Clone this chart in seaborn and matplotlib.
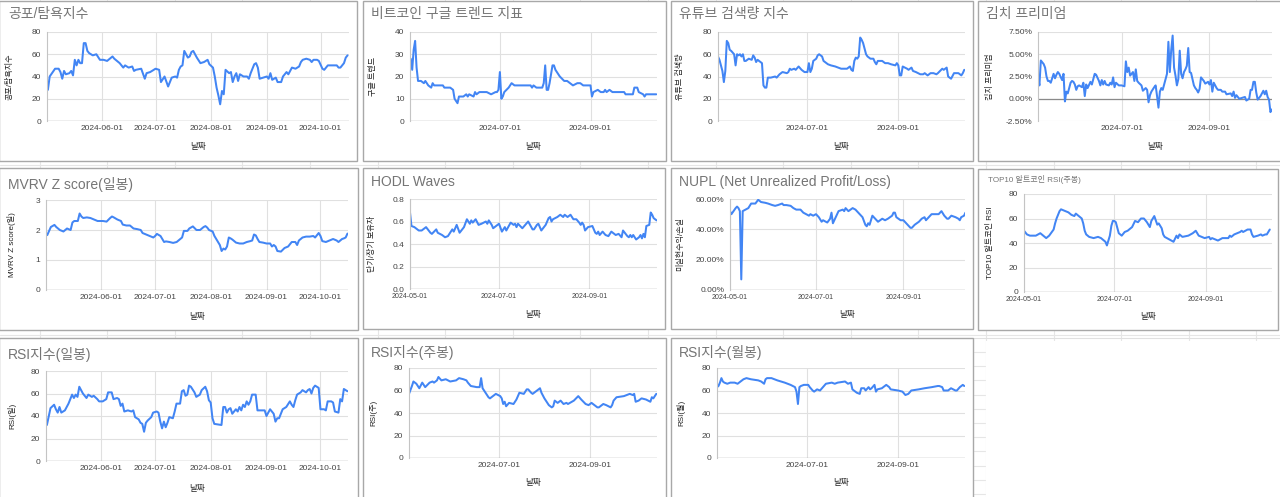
import pandas as pd
import matplotlib
matplotlib.use("Agg")
import matplotlib.pyplot as plt
import matplotlib.dates as mdates
import matplotlib.ticker as mticker
from matplotlib.patches import Rectangle
import seaborn as sns

sns.set_style("white")
plt.rcParams['font.family'] = ['Liberation Sans', 'Noto Sans CJK KR', 'DejaVu Sans']

START = pd.Timestamp("2024-05-01")

# (days since 2024-05-01, value)
fear_greed = [(1, 28), (2, 40), (5, 47), (7, 47), (8, 44), (9, 38), (10, 45), (11, 42), (13, 43), (14, 45),
              (15, 41), (16, 55), (17, 50), (18, 55), (19, 52), (20, 52), (21, 70), (22, 70), (23, 63), (24, 61),
              (26, 59), (28, 60), (30, 55), (32, 55), (34, 54), (37, 58), (38, 56), (41, 52), (43, 48), (44, 50),
              (46, 48), (48, 49), (49, 45), (50, 46), (53, 47), (55, 38), (56, 43), (58, 44), (61, 47), (63, 46),
              (64, 35), (66, 40), (68, 31), (70, 39), (72, 40), (73, 39), (74, 46), (75, 49), (76, 50), (77, 63),
              (78, 60), (79, 57), (80, 58), (81, 62), (82, 63), (84, 57), (86, 52), (88, 53), (90, 55), (91, 51),
              (93, 48), (94, 40), (95, 30), (96, 23), (97, 15), (98, 27), (99, 24), (100, 46), (102, 43), (103, 44),
              (104, 35), (105, 40), (106, 43), (107, 36), (108, 42), (110, 40), (112, 40), (113, 38), (114, 43), (116, 51),
              (117, 52), (118, 48), (119, 38), (121, 39), (123, 40), (124, 38), (125, 43), (126, 37), (128, 39), (129, 35),
              (131, 35), (132, 40), (134, 44), (135, 42), (137, 48), (139, 47), (141, 49), (142, 53), (143, 55), (145, 56),
              (147, 55), (148, 53), (149, 55), (151, 55), (152, 54), (154, 47), (155, 46), (157, 50), (159, 50), (162, 50),
              (163, 48), (164, 48), (165, 50), (166, 52), (167, 57), (168, 59)]

google_trend = [(0, 28), (1, 23), (2, 32), (3, 36), (4, 24), (5, 18), (7, 18), (9, 17), (10, 18), (12, 16),
                (14, 15), (15, 17), (16, 16), (20, 16), (22, 16), (23, 15), (27, 15), (29, 14), (30, 10), (31, 9),
                (32, 8), (33, 11), (36, 11), (38, 12), (39, 11), (40, 12), (43, 11), (44, 13), (45, 12), (47, 13),
                (52, 13), (55, 12), (58, 13), (59, 13), (60, 14), (61, 22), (62, 10), (63, 11), (64, 13), (67, 15),
                (69, 17), (71, 16), (77, 16), (79, 16), (82, 16), (83, 15), (84, 16), (86, 15), (90, 15), (91, 17),
                (92, 25), (93, 14), (94, 14), (95, 17), (97, 25), (98, 25), (99, 23), (100, 22), (102, 20), (105, 18),
                (107, 18), (109, 17), (111, 16), (114, 17), (116, 17), (118, 16), (122, 16), (123, 16), (124, 11), (125, 13),
                (128, 14), (130, 13), (132, 13), (133, 14), (134, 13), (136, 14), (138, 13), (146, 13), (147, 12), (152, 12),
                (153, 15), (155, 15), (156, 13), (159, 12), (160, 11), (161, 12), (164, 12), (168, 12)]

youtube = [(0, 58), (1, 55), (3, 45), (4, 35), (5, 45), (6, 72), (7, 70), (8, 64), (9, 63), (11, 60),
           (12, 50), (13, 60), (14, 59), (15, 60), (16, 58), (17, 60), (18, 54), (19, 54), (21, 56), (23, 55),
           (24, 59), (25, 57), (26, 53), (27, 55), (28, 54), (30, 52), (31, 32), (32, 30), (33, 30), (34, 39),
           (36, 39), (39, 40), (40, 39), (42, 42), (44, 44), (47, 43), (48, 44), (49, 47), (50, 46), (52, 47),
           (53, 46), (55, 49), (57, 46), (59, 44), (61, 44), (62, 52), (63, 44), (64, 47), (65, 54), (67, 56),
           (68, 59), (69, 60), (71, 58), (72, 54), (74, 52), (75, 51), (77, 50), (80, 49), (82, 48), (84, 47),
           (88, 47), (89, 48), (90, 49), (91, 46), (92, 45), (93, 54), (94, 57), (95, 56), (96, 58), (97, 75),
           (98, 73), (99, 70), (100, 65), (101, 60), (102, 58), (104, 56), (106, 56), (107, 53), (108, 51), (109, 54),
           (112, 54), (114, 52), (116, 52), (118, 51), (121, 50), (122, 52), (123, 50), (124, 41), (125, 41), (126, 49),
           (129, 47), (130, 46), (132, 48), (133, 45), (135, 44), (138, 42), (140, 42), (141, 43), (143, 41), (145, 43),
           (147, 43), (149, 42), (150, 43), (153, 47), (154, 46), (156, 48), (157, 40), (159, 38), (161, 43), (164, 43),
           (166, 41), (167, 43), (168, 46)]

kimchi = [(2, 2.5), (3, 1.5), (4, 4.3), (6, 3.9), (7, 3.5), (8, 2.5), (9, 2.0), (10, 2.0), (11, 1.8), (13, 2.8),
          (14, 2.3), (15, 2.7), (16, 3.0), (17, 2.8), (19, 2.1), (20, 2.8), (21, -0.3), (22, 0.8), (23, 0.6), (24, 1.2),
          (25, 1.8), (26, 2.0), (27, 1.9), (28, 1.6), (29, 1.0), (30, 1.4), (31, 1.5), (33, 1.3), (34, 1.8), (35, 0.3),
          (36, 1.6), (37, 1.2), (39, 1.9), (40, 1.6), (41, 2.2), (42, 2.8), (43, 2.7), (45, 2.0), (46, 1.5), (47, 2.1),
          (48, 1.6), (49, 2.0), (50, 1.6), (52, 1.5), (53, 1.8), (54, 1.6), (55, 2.4), (56, 1.3), (57, 1.8), (59, 1.5),
          (61, 1.5), (63, 1.4), (64, 4.2), (65, 3.0), (66, 3.5), (67, 2.6), (69, 3.0), (70, 2.0), (71, 3.3), (72, 2.0),
          (73, 1.8), (75, 1.5), (76, 0.9), (78, 1.2), (79, 1.0), (80, -0.4), (81, 0.4), (82, 0.8), (84, 1.3), (85, 1.5),
          (86, 0.3), (87, -1.0), (88, 0.8), (89, 1.2), (90, 1.0), (92, 2.2), (93, 2.8), (94, 6.4), (95, 3.0), (96, 5.5),
          (97, 7.1), (98, 3.5), (99, 2.6), (100, 1.5), (101, 2.2), (102, 5.4), (103, 2.8), (104, 2.3), (105, 3.0), (106, 3.3),
          (107, 3.7), (108, 5.7), (109, 3.0), (110, 2.9), (112, 1.5), (113, 1.2), (114, 1.0), (115, 0.7), (116, 1.1), (117, 2.4),
          (119, 2.0), (120, 1.7), (122, 1.9), (123, 1.6), (124, 2.1), (125, 0.8), (126, 1.8), (127, 1.5), (128, 1.2), (129, 1.0),
          (131, 1.0), (132, 0.8), (134, 0.8), (135, 0.5), (138, 0.6), (139, 0.3), (140, 0.8), (141, 0.1), (142, 0.4), (144, 0.0),
          (146, 0.1), (148, 0.2), (149, -0.2), (151, 0.0), (152, 1.0), (153, 1.0), (154, 1.9), (155, 1.9), (156, 0.7), (157, -0.1),
          (158, 0.1), (159, 0.3), (161, 0.9), (162, 0.5), (163, 0.9), (164, 0.2), (165, -0.1), (166, -1.5), (167, -1.2)]

mvrv = [(1, 1.83), (3, 2.1), (5, 2.17), (6, 2.1), (8, 2.0), (10, 1.95), (12, 2.05), (14, 2.0), (15, 2.25), (16, 2.3),
        (18, 2.3), (19, 2.55), (20, 2.45), (21, 2.4), (23, 2.42), (25, 2.4), (27, 2.35), (29, 2.3), (30, 2.3), (32, 2.3),
        (34, 2.28), (36, 2.4), (37, 2.45), (38, 2.42), (40, 2.35), (42, 2.3), (43, 2.18), (45, 2.15), (47, 2.15), (49, 2.05),
        (51, 2.03), (53, 2.0), (54, 1.9), (56, 1.85), (58, 1.8), (60, 1.75), (61, 1.8), (62, 1.87), (64, 1.8), (66, 1.6),
        (67, 1.62), (69, 1.6), (71, 1.57), (73, 1.6), (75, 1.7), (76, 1.75), (77, 1.97), (79, 1.97), (80, 2.05), (82, 2.12),
        (84, 2.0), (86, 2.0), (88, 2.1), (89, 2.13), (90, 2.08), (91, 2.0), (93, 1.95), (94, 1.8), (95, 1.7), (96, 1.6),
        (97, 1.5), (98, 1.3), (99, 1.38), (100, 1.35), (101, 1.45), (102, 1.75), (103, 1.72), (104, 1.68), (106, 1.58), (108, 1.55),
        (110, 1.55), (112, 1.6), (114, 1.63), (115, 1.65), (116, 1.85), (117, 1.82), (118, 1.7), (119, 1.6), (121, 1.58), (123, 1.55),
        (125, 1.55), (126, 1.45), (127, 1.5), (128, 1.45), (129, 1.3), (131, 1.28), (133, 1.4), (135, 1.45), (137, 1.6), (139, 1.6),
        (140, 1.5), (141, 1.65), (143, 1.75), (145, 1.78), (147, 1.78), (149, 1.8), (150, 1.75), (152, 1.9), (153, 1.8), (154, 1.63),
        (156, 1.6), (158, 1.65), (160, 1.7), (162, 1.65), (163, 1.6), (165, 1.7), (166, 1.72), (167, 1.75), (168, 1.88)]

hodl = [(0, 0.68), (1, 0.56), (3, 0.55), (6, 0.52), (8, 0.52), (10, 0.54), (11, 0.55), (14, 0.50), (15, 0.49), (18, 0.53),
        (19, 0.50), (22, 0.48), (24, 0.46), (26, 0.47), (29, 0.53), (30, 0.51), (32, 0.57), (34, 0.50), (37, 0.55), (39, 0.62),
        (41, 0.58), (42, 0.61), (43, 0.59), (45, 0.62), (47, 0.57), (49, 0.58), (52, 0.60), (53, 0.58), (54, 0.61), (56, 0.57),
        (57, 0.54), (61, 0.58), (63, 0.51), (65, 0.55), (66, 0.52), (69, 0.59), (71, 0.57), (72, 0.58), (73, 0.55), (74, 0.58),
        (77, 0.54), (79, 0.57), (81, 0.60), (84, 0.53), (85, 0.53), (87, 0.57), (88, 0.58), (90, 0.52), (93, 0.57), (95, 0.63),
        (96, 0.64), (97, 0.60), (98, 0.62), (101, 0.64), (103, 0.66), (105, 0.64), (106, 0.66), (108, 0.64), (110, 0.66), (112, 0.62),
        (114, 0.62), (116, 0.59), (117, 0.57), (118, 0.59), (119, 0.57), (120, 0.52), (122, 0.55), (125, 0.56), (126, 0.53), (127, 0.50),
        (128, 0.49), (129, 0.51), (130, 0.48), (132, 0.51), (134, 0.48), (136, 0.47), (138, 0.51), (141, 0.48), (143, 0.49), (145, 0.46),
        (146, 0.52), (149, 0.47), (150, 0.46), (151, 0.48), (152, 0.46), (153, 0.48), (155, 0.44), (157, 0.46), (158, 0.48), (159, 0.45),
        (160, 0.49), (161, 0.46), (162, 0.56), (164, 0.57), (165, 0.68), (166, 0.66), (167, 0.63), (168, 0.62), (169, 0.61)]

nupl = [(0, 52), (1, 50), (4, 54), (5, 55), (6, 54), (7, 52), (8, 7), (9, 52), (11, 53), (13, 54),
        (15, 57), (18, 57), (20, 59.5), (22, 58), (25, 57.5), (27, 57), (30, 56), (32, 55.5), (34, 56), (37, 57),
        (38, 56), (40, 56), (43, 55.5), (45, 54), (47, 53), (50, 53), (52, 51), (54, 50), (56, 49), (57, 50),
        (59, 49), (61, 50), (63, 48), (65, 45), (66, 46), (69, 44.5), (71, 47), (72, 51), (73, 44), (75, 48),
        (77, 52), (80, 53), (81, 52), (82, 54), (84, 52), (87, 54), (89, 53), (91, 51), (94, 48), (96, 43),
        (97, 42), (98, 44), (99, 43), (101, 49), (103, 47), (105, 45), (108, 47), (110, 46), (112, 47), (115, 49),
        (116, 51), (117, 51), (118, 48), (121, 46), (123, 46), (124, 45), (126, 43), (128, 41), (129, 41), (131, 43),
        (134, 45), (136, 47), (138, 48), (139, 46), (141, 48), (143, 50), (145, 50), (148, 50), (150, 52), (152, 49),
        (154, 47), (155, 47), (157, 49), (160, 48), (162, 47), (163, 46), (164, 48), (166, 49), (167, 51)]

alt_rsi = [(0, 50), (2, 47), (4, 46), (8, 46), (11, 48), (13, 46), (15, 44), (17, 46), (20, 51), (21, 56),
           (22, 60), (23, 63), (24, 66), (25, 67.5), (28, 66), (30, 65), (32, 63), (34, 62), (35, 64), (38, 61),
           (39, 60), (40, 56), (41, 50), (42, 47), (44, 45), (47, 44), (50, 45), (52, 44), (55, 41), (56, 38),
           (57, 42), (58, 46), (59, 54), (60, 58), (61, 58), (62, 57), (64, 48), (66, 46), (68, 49), (70, 50),
           (73, 53), (75, 58), (77, 57), (79, 60), (81, 60), (83, 57), (85, 53), (86, 58), (88, 62), (90, 55),
           (91, 56), (93, 52), (94, 47), (95, 45), (98, 43), (101, 41), (103, 46), (104, 44), (105, 47), (107, 45),
           (111, 46), (114, 48), (116, 50), (118, 46), (120, 45), (122, 44), (125, 45), (126, 43), (127, 44), (131, 42),
           (134, 44), (138, 44), (139, 46), (140, 45), (142, 47), (144, 48), (146, 49), (147, 50), (148, 49), (151, 51),
           (153, 51), (154, 47), (155, 45), (158, 46), (160, 47), (161, 46), (163, 47), (164, 47), (165, 49), (166, 51)]

rsi_day = [(1, 32), (3, 47), (5, 50), (6, 46), (7, 43), (8, 48), (9, 43), (11, 45), (13, 51), (15, 59),
           (16, 56), (17, 59), (18, 57), (19, 66), (21, 60), (23, 56), (24, 59), (26, 57), (27, 58), (29, 55),
           (30, 53), (32, 53), (34, 55), (35, 61), (37, 61), (38, 55), (40, 56), (41, 55), (42, 49), (43, 51),
           (44, 44), (46, 45), (48, 44), (49, 45), (50, 39), (52, 37), (53, 34), (54, 33), (55, 26), (56, 34),
           (57, 36), (59, 39), (60, 43), (62, 44), (63, 43), (64, 35), (65, 29), (66, 35), (67, 30), (68, 34),
           (69, 39), (71, 38), (72, 44), (73, 51), (75, 51), (76, 62), (77, 63), (78, 58), (79, 59), (80, 67),
           (81, 66), (83, 61), (84, 57), (86, 59), (87, 63), (89, 66), (90, 62), (91, 54), (92, 52), (93, 38),
           (94, 33), (98, 32), (99, 48), (100, 48), (101, 43), (102, 46), (103, 47), (104, 42), (106, 46), (107, 44),
           (108, 48), (109, 45), (110, 50), (111, 48), (112, 53), (113, 50), (114, 53), (115, 59), (117, 59), (118, 45),
           (122, 45), (123, 40), (125, 46), (127, 42), (128, 35), (129, 38), (130, 38), (132, 46), (134, 48), (136, 53),
           (137, 50), (138, 48), (139, 54), (140, 59), (142, 61), (143, 63), (145, 61), (146, 63), (147, 64), (148, 60),
           (149, 65), (150, 67), (152, 65), (153, 46), (155, 46), (156, 45), (157, 53), (159, 53), (160, 52), (161, 44),
           (163, 43), (164, 55), (165, 53), (166, 64), (168, 62)]

rsi_week = [(0, 57), (2, 64), (3, 68), (5, 66), (7, 62), (9, 67), (11, 63), (14, 67), (16, 68), (17, 67),
            (19, 69), (20, 72), (22, 69), (25, 70), (28, 68), (32, 69), (34, 71), (37, 70), (39, 69), (40, 67),
            (42, 64), (46, 63), (48, 63), (49, 71), (50, 62), (52, 58), (54, 54), (55, 53), (57, 55), (59, 57),
            (62, 55), (63, 53), (64, 48), (65, 50), (66, 46), (68, 49), (71, 48), (73, 52), (75, 58), (78, 57),
            (80, 61), (81, 61), (83, 58), (84, 57), (87, 60), (89, 62), (90, 58), (92, 53), (95, 47), (97, 45),
            (98, 46), (99, 51), (101, 49), (103, 51), (105, 48), (107, 49), (108, 48), (112, 51), (115, 55), (117, 52),
            (120, 48), (122, 47), (124, 49), (128, 45), (129, 45), (132, 48), (134, 47), (137, 45), (138, 47), (139, 51),
            (141, 54), (146, 55), (150, 57), (152, 56), (153, 57), (154, 50), (156, 51), (158, 53), (161, 52), (164, 50),
            (165, 54), (166, 53), (168, 57)]

rsi_month = [(0, 63), (1, 64), (2, 67), (3, 71), (4, 68), (5, 67), (7, 66), (9, 67), (12, 67), (14, 66),
             (16, 68), (18, 70), (20, 71), (23, 70), (28, 69), (30, 68), (32, 66), (33, 70), (34, 71), (37, 71),
             (41, 69), (46, 67), (50, 65), (53, 63), (54, 59), (55, 48), (56, 63), (57, 64), (59, 65), (62, 65),
             (63, 63), (65, 60), (66, 59), (68, 61), (70, 60), (72, 63), (74, 66), (78, 67), (80, 66), (82, 67),
             (87, 68), (89, 66), (91, 67), (92, 61), (95, 58), (97, 57), (98, 62), (100, 62), (101, 60), (103, 63),
             (104, 61), (105, 62), (107, 65), (108, 59), (109, 61), (112, 62), (115, 65), (117, 63), (118, 61), (123, 60),
             (126, 59), (128, 56), (130, 57), (132, 60), (137, 61), (141, 62), (146, 63), (150, 64), (151, 64), (153, 63),
             (154, 60), (157, 60), (159, 62), (162, 60), (163, 60), (165, 63), (167, 65), (168, 64)]

MONTHLY = ['2024-06-01', '2024-07-01', '2024-08-01', '2024-09-01', '2024-10-01']
BIMONTH = ['2024-07-01', '2024-09-01']
BIMONTH0 = ['2024-05-01', '2024-07-01', '2024-09-01']

W, H = 1280, 497
BLUE = '#4285f4'
TITLE_C = '#757575'

fig = plt.figure(figsize=(W / 100, H / 100), dpi=100)
bg = fig.add_axes([0, 0, 1, 1])
bg.set_xlim(0, W)
bg.set_ylim(H, 0)
bg.axis('off')

# spreadsheet grid behind the chart cards
for k in range(19):
    x = 39.5 + 67.6 * k
    bg.plot([x, x], [0, H], color='#e6e6e6', lw=0.8, zorder=0)
for y in [164.5, 334.5]:
    bg.plot([0, W], [y, y], color='#e6e6e6', lw=0.8, zorder=0)
bg.add_patch(Rectangle((986, 341), 300, 160, facecolor='white', edgecolor='none', zorder=1))
bg.plot([973, W], [338, 338], color='#e0e0e0', lw=0.8, zorder=2)
for k in range(11):
    y = 352 + 14.2 * k
    bg.plot([974, 985], [y, y], color='#e6e6e6', lw=0.8, zorder=2)

charts = [
    dict(card=(-1, 0.5, 357, 161), box=(47, 32, 349, 121), title='공포/탐욕지수', tpos=(8, 14),
         ylabel='공포/탐욕지수', ylx=10, xly=147, series=fear_greed, xlim=(0.5, 168.8),
         yt=[0, 20, 40, 60, 80], fmt='{:.0f}', xt=MONTHLY),
    dict(card=(363, 0.5, 666, 161), box=(410, 32, 657, 121), title='비트코인 구글 트렌드 지표', tpos=(371, 14),
         ylabel='구글 트렌드', ylx=373, xly=146, series=google_trend, xlim=(-0.5, 168.5),
         yt=[0, 10, 20, 30, 40], fmt='{:.0f}', xt=BIMONTH),
    dict(card=(671, 0.5, 973, 161), box=(718, 32, 965, 121), title='유튜브 검색량 지수', tpos=(679, 14),
         ylabel='유튜브 검색량', ylx=680, xly=146, series=youtube, xlim=(0, 168.5),
         yt=[0, 20, 40, 60, 80], fmt='{:.0f}', xt=BIMONTH),
    dict(card=(978, 0.5, 1282, 161), box=(1038, 32, 1272, 121), title='김치 프리미엄', tpos=(986, 14),
         ylabel='김치 프리미엄', ylx=990, xly=146, series=kimchi, xlim=(2, 167.1),
         yt=[-2.5, 0, 2.5, 5, 7.5], fmt='{:.2f}%', xt=BIMONTH),
    dict(card=(-1, 168, 358, 330), box=(46, 200, 348, 290), title='MVRV Z score(일봉)', tpos=(8, 184),
         ylabel='MVRV Z score(일)', ylx=12, xly=317, series=mvrv, xlim=(0.3, 168.3),
         yt=[0, 1, 2, 3], fmt='{:.0f}', xt=MONTHLY),
    dict(card=(363, 168, 665, 329), box=(410, 199, 657, 289), title='HODL Waves', tpos=(371, 182),
         ylabel='단기/장기 보유자', ylx=372, xly=315, series=hodl, xlim=(0, 169.3),
         yt=[0, 0.2, 0.4, 0.6, 0.8], fmt='{:.1f}', xt=BIMONTH0, small=True),
    dict(card=(671, 168, 973, 329), box=(730, 199, 965, 290), title='NUPL (Net Unrealized Profit/Loss)',
         tpos=(679, 182), ylabel='미실현수익/손실', ylx=680, xly=315, series=nupl, xlim=(0, 166.7),
         yt=[0, 20, 40, 60], fmt='{:.2f}%', xt=BIMONTH0, small=True),
    dict(card=(978, 169, 1278, 330), box=(1024, 194, 1272, 292), title='TOP10 알트코인 RSI(주봉)',
         tpos=(988, 180), tsize=5.8, ylabel='TOP10 알트코인 RSI', ylx=990, xly=317, series=alt_rsi,
         xlim=(0, 167.5), yt=[0, 20, 40, 60, 80], fmt='{:.0f}', xt=BIMONTH0, small=True),
    dict(card=(-1, 338, 358, 499), box=(46, 371, 348, 461), title='RSI지수(일봉)', tpos=(8, 354),
         ylabel='RSI(일)', ylx=12, xly=488, series=rsi_day, xlim=(0.5, 168.3),
         yt=[0, 20, 40, 60, 80], fmt='{:.0f}', xt=MONTHLY),
    dict(card=(363, 338, 666, 499), box=(409, 368, 657, 458), title='RSI지수(주봉)', tpos=(371, 352),
         ylabel='RSI(주)', ylx=373, xly=482, series=rsi_week, xlim=(0, 168.5),
         yt=[0, 20, 40, 60, 80], fmt='{:.0f}', xt=BIMONTH),
    dict(card=(671, 338, 973, 499), box=(717, 368, 965, 458), title='RSI지수(월봉)', tpos=(679, 352),
         ylabel='RSI(월)', ylx=681, xly=482, series=rsi_month, xlim=(0, 168.5),
         yt=[0, 20, 40, 60, 80], fmt='{:.0f}', xt=BIMONTH),
]

for c in charts:
    x0, y0, x1, y1 = c['card']
    bg.add_patch(Rectangle((x0, y0), x1 - x0, y1 - y0, facecolor='white',
                           edgecolor='#a8a8a8', lw=1.0, zorder=3))
    bg.text(c['tpos'][0], c['tpos'][1], c['title'], fontsize=c.get('tsize', 10),
            color=TITLE_C, ha='left', va='center', zorder=4)

    l, t, r, b = c['box']
    ax = fig.add_axes([l / W, 1 - b / H, (r - l) / W, (b - t) / H])
    ax.set_facecolor('none')
    days, vals = zip(*c['series'])
    dates = START + pd.to_timedelta(list(days), unit='D')
    sns.lineplot(x=dates, y=list(vals), ax=ax, color=BLUE, linewidth=1.45)

    ax.set_xlim(START + pd.Timedelta(days=c['xlim'][0]), START + pd.Timedelta(days=c['xlim'][1]))
    ax.set_ylim(c['yt'][0], c['yt'][-1])
    ax.set_yticks(c['yt'])
    ax.yaxis.set_major_formatter(mticker.FuncFormatter(lambda v, p, f=c['fmt']: f.format(v)))
    ax.set_xticks(pd.to_datetime(c['xt']))
    ax.xaxis.set_major_formatter(mdates.DateFormatter('%Y-%m-%d'))
    ax.tick_params(axis='y', length=0, labelsize=6.0, labelcolor='#444444', pad=4)
    ax.tick_params(axis='x', length=0, labelsize=5.0 if c.get('small') else 6.0,
                   labelcolor='#444444', pad=3)
    ax.grid(True, color='#e0e0e0', lw=0.8)
    ax.set_axisbelow(True)
    for s in ['top', 'right', 'bottom']:
        ax.spines[s].set_visible(False)
    ax.spines['left'].set_color('#c4c4c4')
    ax.spines['left'].set_linewidth(0.8)
    ax.axhline(0, color='#8a8a8a', lw=0.9, zorder=1)
    ax.set_xlabel('')
    ax.set_ylabel('')

    bg.text(c['ylx'], (t + b) / 2, c['ylabel'], rotation=90, fontsize=5.8, color='#222222',
            ha='center', va='center', zorder=4)
    bg.text((l + r) / 2, c['xly'], '날짜', fontsize=6.2, color='#222222',
            ha='center', va='center', zorder=4)

fig.savefig('out.png', dpi=100)
